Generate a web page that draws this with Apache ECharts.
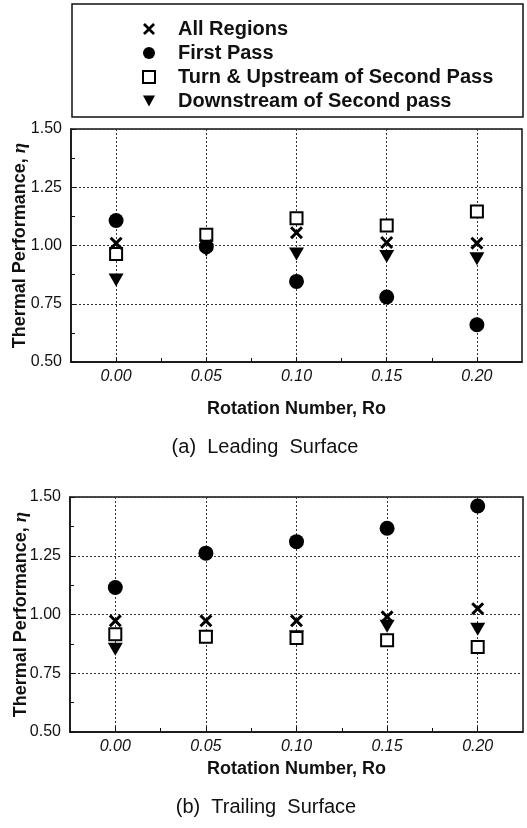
<!DOCTYPE html>
<html>
<head>
<meta charset="utf-8">
<script src="https://cdn.jsdelivr.net/npm/echarts@6/dist/echarts.min.js"></script>
<style>
  html, body { margin: 0; padding: 0; background: #fff; }
  #chart { width: 527px; height: 828px; }
</style>
</head>
<body>
<div id="chart"></div>
<script>
// rotation numbers
const ro = [0, 0.05, 0.10, 0.15, 0.20]
const xTicks = [0, 0.05, 0.10, 0.15, 0.20]
const xMinorTicks = [0.025, 0.075, 0.125, 0.175]
const seriesNames = ['All Regions', 'First Pass', 'Turn & Upstream of Second Pass', 'Downstream of Second pass']

// (a) leading surface
const leadAll = [1.01, 1.00, 1.055, 1.013, 1.01]
const leadFirst = [1.107, 0.995, 0.846, 0.779, 0.66]
const leadTurn = [0.964, 1.046, 1.117, 1.086, 1.146]
const leadDown = [0.852, 0.98, 0.964, 0.953, 0.943]

// (b) trailing surface
const trailAll = [0.973, 0.973, 0.973, 0.99, 1.025]
const trailFirst = [1.115, 1.261, 1.31, 1.367, 1.462]
const trailTurn = [0.916, 0.905, 0.90, 0.89, 0.862]
const trailDown = [0.852, 0.905, 0.905, 0.95, 0.937]

const FONT = 'Liberation Sans, Arial, sans-serif'
const crossPath = 'path://M0,1.6L1.6,0L5,3.4L8.4,0L10,1.6L6.6,5L10,8.4L8.4,10L5,6.6L1.6,10L0,8.4L3.4,5Z'
const downTriangle = 'path://M0,0L10,0L5,9Z'

function pairs (ys) {
  return ro.map((x, i) => [x, ys[i]])
}

function markStyle (idx) {
  if (idx === 0) return { symbol: crossPath, symbolSize: 13, itemStyle: { color: '#000', opacity: 1 } }
  if (idx === 1) return { symbol: 'circle', symbolSize: 15, itemStyle: { color: '#000', opacity: 1 } }
  if (idx === 2) return { symbol: 'rect', symbolSize: 12, itemStyle: { color: '#fff', borderColor: '#000', borderWidth: 2, opacity: 1 } }
  return { symbol: downTriangle, symbolSize: [15, 13], itemStyle: { color: '#000', opacity: 1 } }
}

function makeSeries (grid, lists) {
  // draw order: circles, triangles, squares, crosses
  const order = [1, 3, 2, 0]
  return order.map(idx => Object.assign({
    name: seriesNames[idx],
    type: 'scatter',
    xAxisIndex: grid * 2,
    yAxisIndex: grid,
    data: pairs(lists[idx]),
    z: 3
  }, markStyle(idx)))
}

function mainX (grid, nameGap) {
  return {
    type: 'value',
    gridIndex: grid,
    min: -0.025,
    max: 0.225,
    name: 'Rotation Number, Ro',
    nameLocation: 'middle',
    nameGap: nameGap,
    nameTextStyle: { fontFamily: FONT, fontSize: 18, fontWeight: 'bold', color: '#111' },
    axisLine: { show: true, onZero: false, lineStyle: { color: '#111', width: 1.5 } },
    axisTick: { show: true, inside: true, length: 5, customValues: xTicks, lineStyle: { color: '#111' } },
    axisLabel: {
      customValues: xTicks,
      fontFamily: FONT,
      fontSize: 16,
      fontStyle: 'italic',
      color: '#111',
      margin: 7,
      formatter: v => v.toFixed(2)
    },
    splitLine: { show: true, lineStyle: { color: '#333', type: [2, 2], width: 1 } }
  }
}

function minorX (grid) {
  return {
    type: 'value',
    gridIndex: grid,
    min: -0.025,
    max: 0.225,
    position: 'bottom',
    axisLine: { show: false },
    axisLabel: { show: false },
    splitLine: { show: false },
    axisTick: { show: true, inside: true, length: 4, customValues: xMinorTicks, lineStyle: { color: '#111' } }
  }
}

function mainY (grid, nameGap) {
  return {
    type: 'value',
    gridIndex: grid,
    min: 0.5,
    max: 1.5,
    interval: 0.25,
    name: '{a|Thermal Performance, }{b|η}',
    nameLocation: 'middle',
    nameGap: nameGap,
    nameMoveOverlap: false,
    nameTextStyle: {
      rich: {
        a: { fontFamily: FONT, fontSize: 18, fontWeight: 'bold', color: '#111' },
        b: { fontFamily: 'Liberation Serif, serif', fontSize: 19, fontWeight: 'bold', fontStyle: 'italic', color: '#111' }
      }
    },
    axisLine: { show: true, onZero: false, lineStyle: { color: '#111', width: 1.5 } },
    axisTick: { show: true, inside: true, length: 5, lineStyle: { color: '#111' } },
    minorTick: { show: true, splitNumber: 2, length: 4, lineStyle: { color: '#111' } },
    axisLabel: {
      fontFamily: FONT,
      fontSize: 16,
      color: '#111',
      margin: 9,
      formatter: v => v.toFixed(2)
    },
    splitLine: { show: true, lineStyle: { color: '#333', type: [2, 2], width: 1 } }
  }
}

const chart = echarts.init(document.getElementById('chart'), null, { renderer: 'canvas' })

chart.setOption({
  backgroundColor: '#fff',
  animation: false,
  grid: [
    { left: 71, right: 5, top: 129, height: 233, show: true, borderColor: '#111', borderWidth: 1.5, outerBoundsMode: 'none' },
    { left: 70, right: 4, top: 497, height: 235, show: true, borderColor: '#111', borderWidth: 1.5, outerBoundsMode: 'none' }
  ],
  legend: {
    orient: 'vertical',
    left: 142,
    top: 19,
    padding: 0,
    itemWidth: 12,
    itemHeight: 12,
    itemGap: 4,
    selectedMode: false,
    data: seriesNames,
    textStyle: {
      fontFamily: FONT,
      fontSize: 20,
      fontWeight: 'bold',
      color: '#111',
      lineHeight: 20,
      padding: [0, 0, 0, 18]
    }
  },
  xAxis: [mainX(0, 38), minorX(0), mainX(1, 28), minorX(1)],
  yAxis: [mainY(0, 41), mainY(1, 39)],
  series: makeSeries(0, [leadAll, leadFirst, leadTurn, leadDown])
    .concat(makeSeries(1, [trailAll, trailFirst, trailTurn, trailDown])),
  graphic: [
    {
      type: 'rect',
      shape: { x: 72, y: 4, width: 451, height: 113 },
      style: { fill: 'none', stroke: '#111', lineWidth: 1.5 },
      z: 10
    },
    {
      type: 'text',
      x: 265,
      y: 447,
      style: {
        text: '(a)  Leading  Surface',
        fontFamily: FONT,
        fontSize: 20,
        fill: '#111',
        align: 'center',
        verticalAlign: 'middle'
      }
    },
    {
      type: 'text',
      x: 266,
      y: 807,
      style: {
        text: '(b)  Trailing  Surface',
        fontFamily: FONT,
        fontSize: 20,
        fill: '#111',
        align: 'center',
        verticalAlign: 'middle'
      }
    }
  ]
})
</script>
</body>
</html>
